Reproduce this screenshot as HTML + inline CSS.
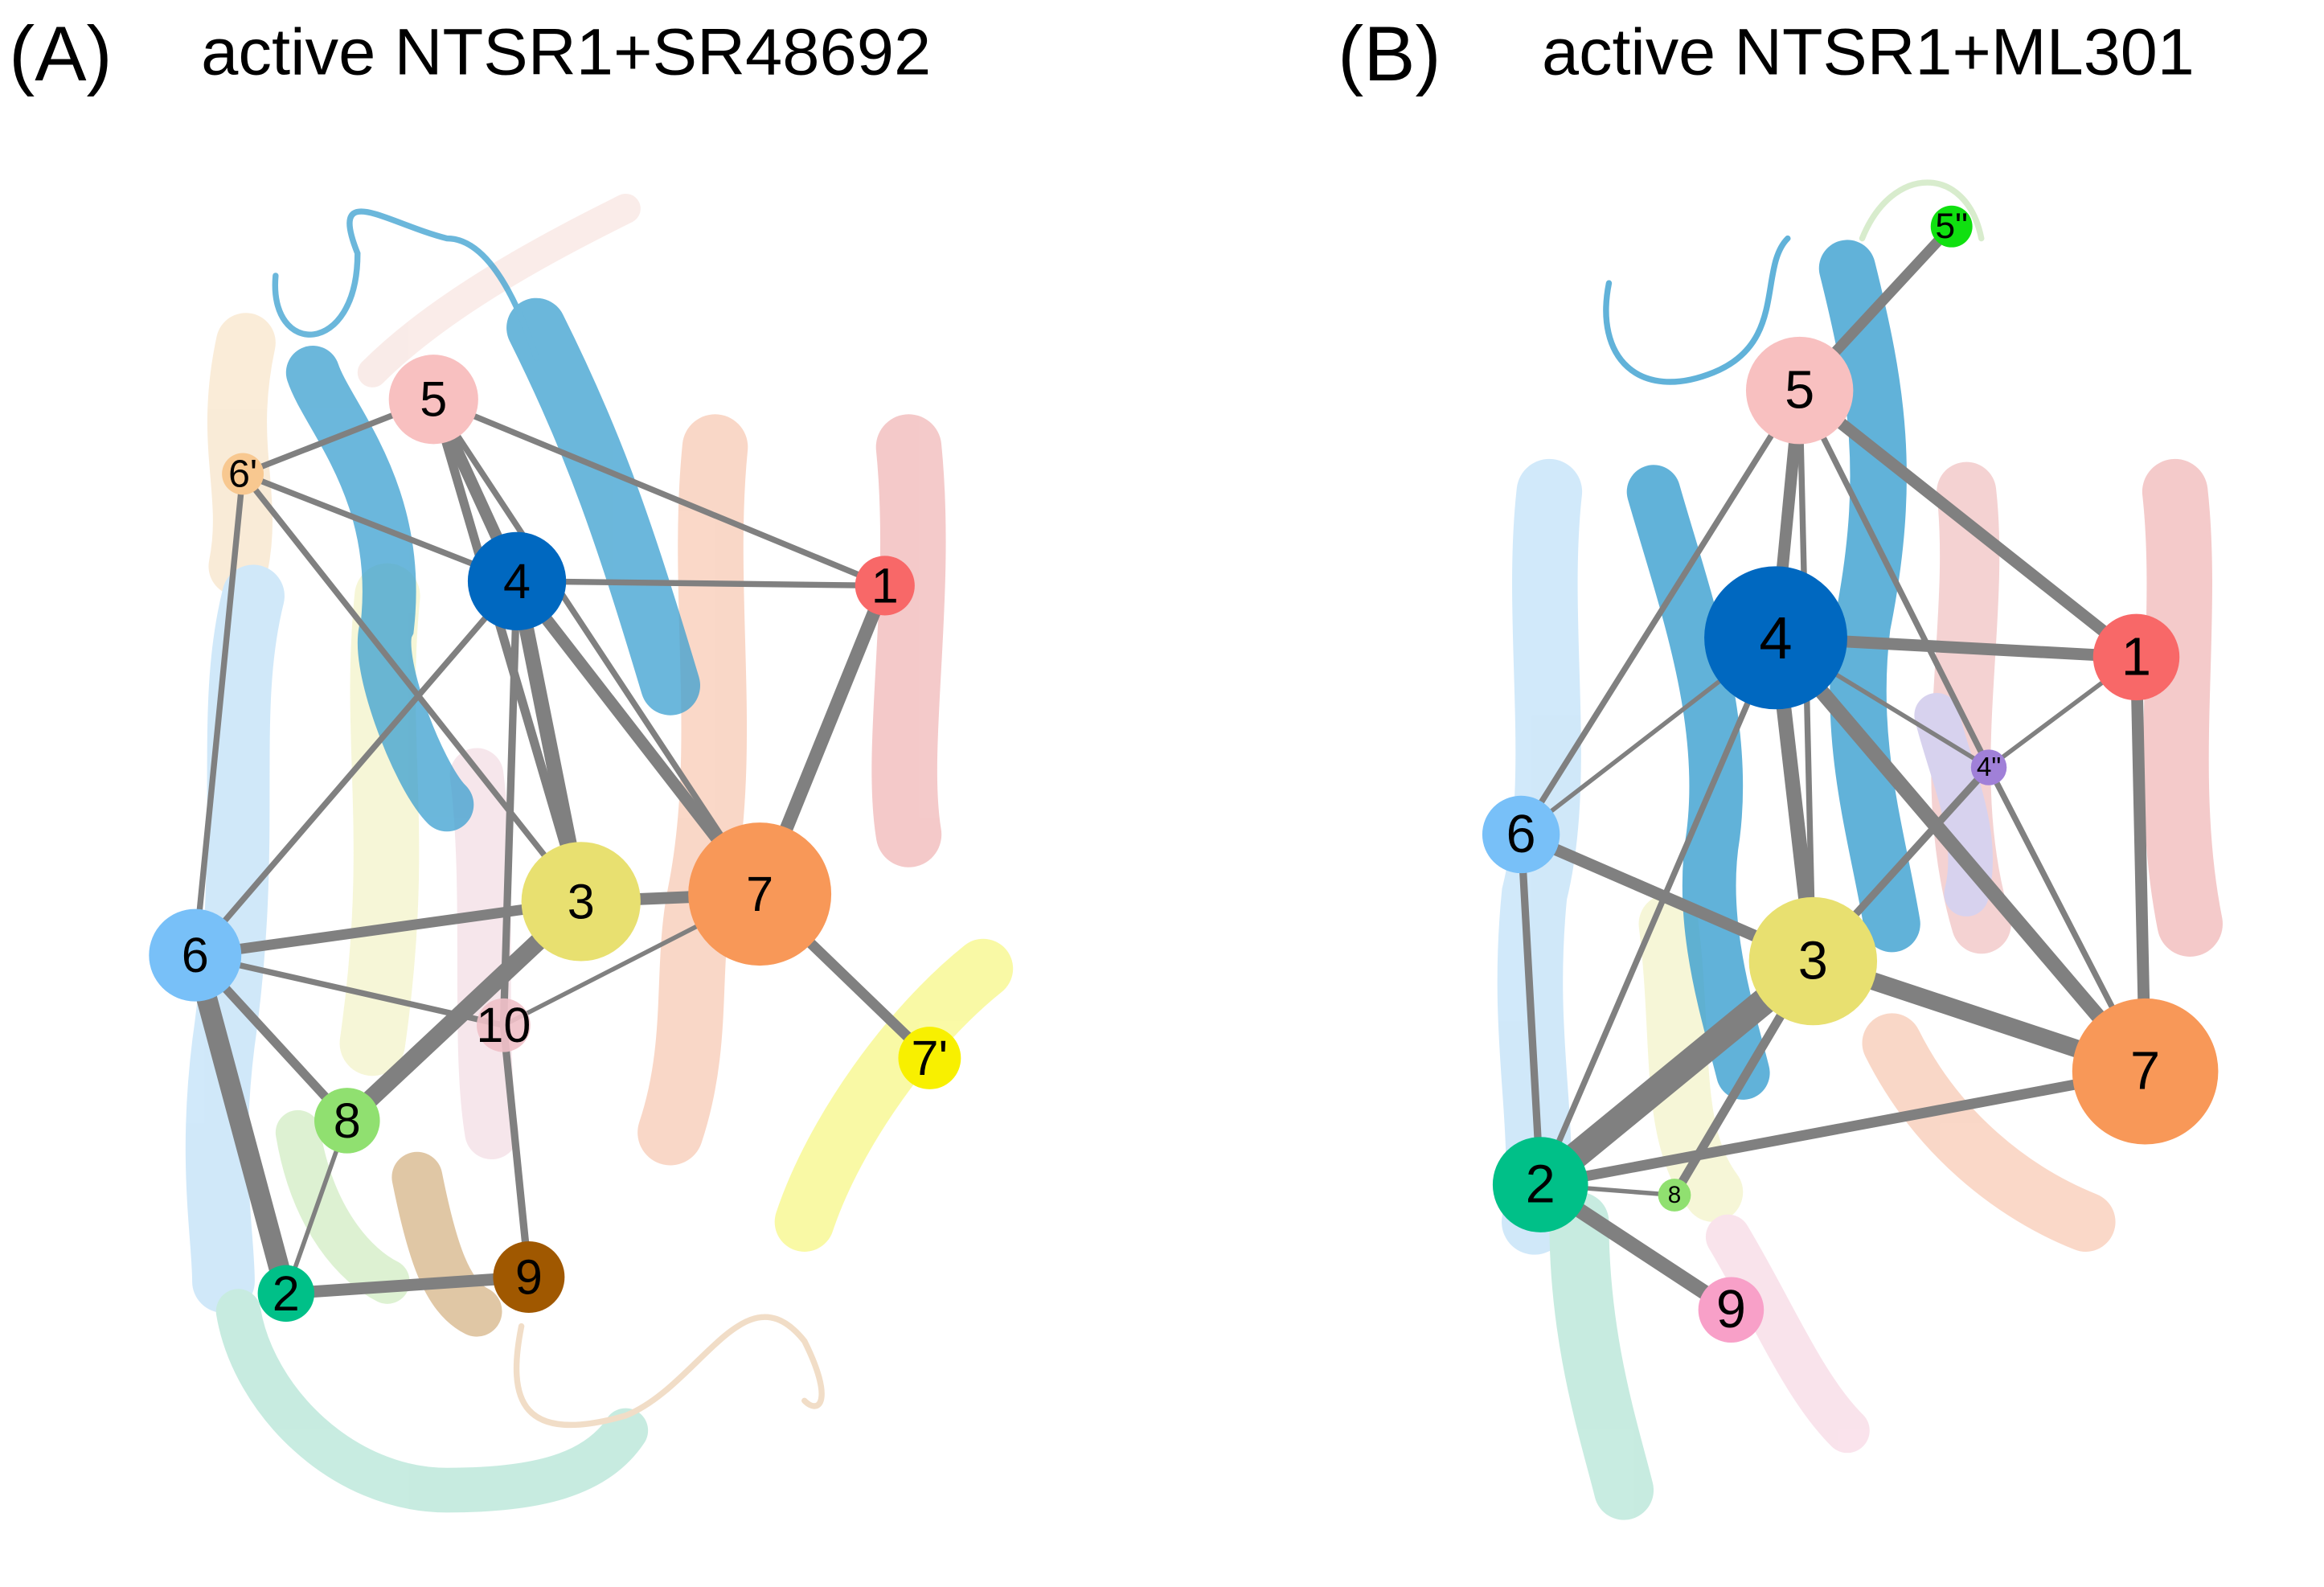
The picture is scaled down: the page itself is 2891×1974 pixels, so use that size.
<!DOCTYPE html>
<html><head><meta charset="utf-8"><style>
html,body{margin:0;padding:0;background:#fff;}
svg{display:block;}
text{font-family:"Liberation Sans",Arial,sans-serif;}
</style></head><body>
<svg width="2891" height="1974" viewBox="0 0 1560 1065" preserveAspectRatio="none" xmlns="http://www.w3.org/2000/svg">
<rect width="1560" height="1065" fill="#fff"/>
<g fill="none" stroke-linecap="round" opacity="0.35">
<path d="M165,230 C150,300 170,330 160,380" stroke="#f0c890" stroke-width="40"/>
<path d="M170,400 C150,480 170,560 150,700 C140,780 150,830 150,860" stroke="#7cc0f0" stroke-width="42"/>
<path d="M260,400 C250,500 270,560 250,700" stroke="#e8e890" stroke-width="44"/>
<path d="M320,520 C330,600 320,700 330,760" stroke="#e8b8c8" stroke-width="36"/>
<path d="M480,300 C470,400 490,500 470,600 C460,650 470,700 450,760" stroke="#f09060" stroke-width="44"/>
<path d="M610,300 C620,400 600,500 610,560" stroke="#e06868" stroke-width="44"/>
<path d="M160,880 C170,940 230,1000 300,1000 C360,1000 400,990 420,960" stroke="#60c8a8" stroke-width="30"/>
<path d="M200,760 C210,820 240,850 260,860" stroke="#a0d880" stroke-width="30"/>
<path d="M250,250 C300,200 380,160 420,140" stroke="#f0c8c0" stroke-width="20"/>
<path d="M540,820 C560,760 610,690 660,650" stroke="#f0f000" stroke-width="40"/>
<path d="M280,790 C290,840 300,870 320,880" stroke="#a86000" stroke-width="34"/>
<path d="M350,890 C340,940 350,970 420,950 C470,930 500,850 540,900 C560,940 550,950 540,940" stroke="#d8a060" stroke-width="4"/>
</g>
<g fill="none" stroke-linecap="round" opacity="0.75">
<path d="M210,250 C220,280 270,330 260,420 C250,440 280,520 300,540" stroke="#3a9fd0" stroke-width="36"/>
<path d="M360,220 C400,300 420,360 450,460" stroke="#3a9fd0" stroke-width="40"/>
<path d="M185,185 C180,240 240,240 240,170 C220,120 260,150 300,160 C330,160 350,210 360,240" stroke="#3a9fd0" stroke-width="4"/>
</g>
<g fill="none" stroke-linecap="round" opacity="0.35">
<path d="M1040,330 C1030,420 1050,520 1030,600 C1020,700 1040,760 1030,820" stroke="#7cc0f0" stroke-width="44"/>
<path d="M1060,820 C1060,900 1080,960 1090,1000" stroke="#60c8a8" stroke-width="40"/>
<path d="M1320,330 C1330,420 1300,520 1330,620" stroke="#e08080" stroke-width="40"/>
<path d="M1460,330 C1470,420 1450,520 1470,620" stroke="#e06868" stroke-width="44"/>
<path d="M1270,700 C1300,760 1350,800 1400,820" stroke="#f09060" stroke-width="40"/>
<path d="M1120,620 C1130,700 1120,760 1150,800" stroke="#e8e890" stroke-width="40"/>
<path d="M1160,830 C1190,880 1210,930 1240,960" stroke="#f0b0c8" stroke-width="30"/>
<path d="M1250,160 C1270,110 1320,110 1330,160" stroke="#90c870" stroke-width="4"/>
<path d="M1300,480 C1310,520 1330,560 1320,600" stroke="#9080d0" stroke-width="30"/>
</g>
<g fill="none" stroke-linecap="round" opacity="0.8">
<path d="M1240,180 C1260,260 1270,320 1250,420 C1240,500 1260,560 1270,620" stroke="#3a9fd0" stroke-width="38"/>
<path d="M1110,330 C1130,400 1160,480 1150,560 C1140,620 1160,680 1170,720" stroke="#3a9fd0" stroke-width="36"/>
<path d="M1080,190 C1070,240 1100,270 1150,250 C1200,230 1180,180 1200,160" stroke="#3a9fd0" stroke-width="4"/>
</g>

<g stroke="#808080" stroke-linecap="round">
<line x1="291" y1="268" x2="163" y2="318" stroke-width="4"/>
<line x1="291" y1="268" x2="347" y2="390" stroke-width="8"/>
<line x1="291" y1="268" x2="594" y2="393" stroke-width="4"/>
<line x1="291" y1="268" x2="390" y2="605" stroke-width="6"/>
<line x1="291" y1="268" x2="510" y2="600" stroke-width="4"/>
<line x1="163" y1="318" x2="347" y2="390" stroke-width="4"/>
<line x1="163" y1="318" x2="131" y2="641" stroke-width="4"/>
<line x1="163" y1="318" x2="390" y2="605" stroke-width="4"/>
<line x1="347" y1="390" x2="594" y2="393" stroke-width="4"/>
<line x1="347" y1="390" x2="131" y2="641" stroke-width="4"/>
<line x1="347" y1="390" x2="390" y2="605" stroke-width="10"/>
<line x1="347" y1="390" x2="510" y2="600" stroke-width="8"/>
<line x1="347" y1="390" x2="338" y2="688" stroke-width="5"/>
<line x1="594" y1="393" x2="510" y2="600" stroke-width="9"/>
<line x1="131" y1="641" x2="390" y2="605" stroke-width="7"/>
<line x1="131" y1="641" x2="338" y2="688" stroke-width="4"/>
<line x1="131" y1="641" x2="233" y2="752" stroke-width="6"/>
<line x1="131" y1="641" x2="192" y2="868" stroke-width="14"/>
<line x1="390" y1="605" x2="510" y2="600" stroke-width="8"/>
<line x1="390" y1="605" x2="233" y2="752" stroke-width="12"/>
<line x1="510" y1="600" x2="338" y2="688" stroke-width="3"/>
<line x1="510" y1="600" x2="624" y2="710" stroke-width="7"/>
<line x1="233" y1="752" x2="192" y2="868" stroke-width="3"/>
<line x1="192" y1="868" x2="355" y2="857" stroke-width="8"/>
<line x1="338" y1="688" x2="355" y2="857" stroke-width="5"/>
</g>
<g stroke="#808080" stroke-linecap="round">
<line x1="1310" y1="152" x2="1208" y2="262" stroke-width="7"/>
<line x1="1208" y1="262" x2="1192" y2="428" stroke-width="8"/>
<line x1="1208" y1="262" x2="1434" y2="441" stroke-width="8"/>
<line x1="1208" y1="262" x2="1021" y2="560" stroke-width="4"/>
<line x1="1208" y1="262" x2="1335" y2="515" stroke-width="4"/>
<line x1="1208" y1="262" x2="1217" y2="645" stroke-width="4"/>
<line x1="1192" y1="428" x2="1434" y2="441" stroke-width="8"/>
<line x1="1192" y1="428" x2="1021" y2="560" stroke-width="3"/>
<line x1="1192" y1="428" x2="1217" y2="645" stroke-width="10"/>
<line x1="1192" y1="428" x2="1440" y2="719" stroke-width="10"/>
<line x1="1192" y1="428" x2="1034" y2="795" stroke-width="4"/>
<line x1="1192" y1="428" x2="1335" y2="515" stroke-width="3"/>
<line x1="1434" y1="441" x2="1335" y2="515" stroke-width="3"/>
<line x1="1434" y1="441" x2="1440" y2="719" stroke-width="8"/>
<line x1="1335" y1="515" x2="1217" y2="645" stroke-width="5"/>
<line x1="1335" y1="515" x2="1440" y2="719" stroke-width="4"/>
<line x1="1021" y1="560" x2="1217" y2="645" stroke-width="8"/>
<line x1="1021" y1="560" x2="1034" y2="795" stroke-width="5"/>
<line x1="1217" y1="645" x2="1440" y2="719" stroke-width="12"/>
<line x1="1217" y1="645" x2="1034" y2="795" stroke-width="18"/>
<line x1="1217" y1="645" x2="1124" y2="802" stroke-width="6"/>
<line x1="1034" y1="795" x2="1440" y2="719" stroke-width="7"/>
<line x1="1034" y1="795" x2="1124" y2="802" stroke-width="3"/>
<line x1="1034" y1="795" x2="1162" y2="879" stroke-width="10"/>
</g>

<g font-size="33" text-anchor="middle" dominant-baseline="central" fill="#000">
<circle cx="291" cy="268" r="30" fill="#f8c0c0"/><text x="291" y="268">5</text>
<circle cx="163" cy="318" r="14" fill="#f8c890"/><text x="163" y="318" font-size="26">6'</text>
<circle cx="347" cy="390" r="33" fill="#0068c0"/><text x="347" y="390">4</text>
<circle cx="594" cy="393" r="20" fill="#f86868"/><text x="594" y="393">1</text>
<circle cx="390" cy="605" r="40" fill="#e8e070"/><text x="390" y="605">3</text>
<circle cx="510" cy="600" r="48" fill="#f89858"/><text x="510" y="600">7</text>
<circle cx="131" cy="641" r="31" fill="#78c0f8"/><text x="131" y="641">6</text>
<circle cx="338" cy="688" r="18" fill="#f0c0c8" opacity="0.9"/><text x="338" y="688">10</text>
<circle cx="624" cy="710" r="21" fill="#f8f000"/><text x="624" y="710">7'</text>
<circle cx="233" cy="752" r="22" fill="#90e070"/><text x="233" y="752">8</text>
<circle cx="192" cy="868" r="19" fill="#00c088"/><text x="192" y="868">2</text>
<circle cx="355" cy="857" r="24" fill="#a05800"/><text x="355" y="857">9</text>
</g>
<g font-size="36" text-anchor="middle" dominant-baseline="central" fill="#000">
<circle cx="1310" cy="152" r="14" fill="#10e010"/><text x="1310" y="152" font-size="24">5"</text>
<circle cx="1208" cy="262" r="36" fill="#f8c0c0"/><text x="1208" y="262">5</text>
<circle cx="1192" cy="428" r="48" fill="#0068c0"/><text x="1192" y="428" font-size="40">4</text>
<circle cx="1434" cy="441" r="29" fill="#f86868"/><text x="1434" y="441">1</text>
<circle cx="1335" cy="515" r="12" fill="#a080d8"/><text x="1335" y="515" font-size="18">4"</text>
<circle cx="1021" cy="560" r="26" fill="#78c0f8"/><text x="1021" y="560">6</text>
<circle cx="1217" cy="645" r="43" fill="#e8e070"/><text x="1217" y="645">3</text>
<circle cx="1440" cy="719" r="49" fill="#f89858"/><text x="1440" y="719">7</text>
<circle cx="1034" cy="795" r="32" fill="#00c088"/><text x="1034" y="795">2</text>
<circle cx="1124" cy="802" r="11" fill="#90e070"/><text x="1124" y="802" font-size="16">8</text>
<circle cx="1162" cy="879" r="22" fill="#f8a0c8"/><text x="1162" y="879">9</text>
</g>

<text x="6" y="54" font-size="52">(A)</text>
<text x="135" y="50" font-size="44" textLength="490" lengthAdjust="spacingAndGlyphs">active NTSR1+SR48692</text>
<text x="898" y="54" font-size="52">(B)</text>
<text x="1035" y="50" font-size="44" textLength="438" lengthAdjust="spacingAndGlyphs">active NTSR1+ML301</text>
</svg>
</body></html>
